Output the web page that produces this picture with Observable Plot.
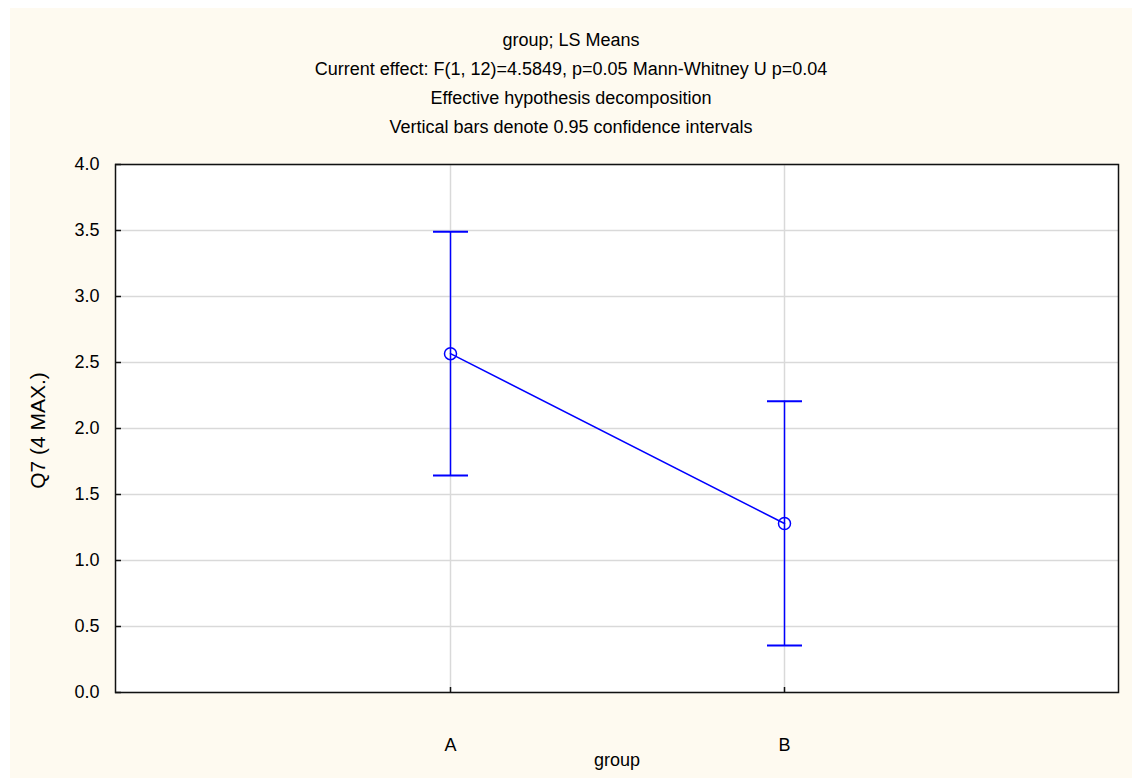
<!DOCTYPE html>
<html>
<head>
<meta charset="utf-8">
<script src="https://cdn.jsdelivr.net/npm/d3@7"></script>
<script src="https://cdn.jsdelivr.net/npm/@observablehq/plot@0.6"></script>
<style>
  html, body { margin: 0; padding: 0; background: #ffffff; }
  #fig { position: absolute; left: 10px; top: 8px; width: 1122px; height: 770px; background: #fefaf0;
         font-family: "Liberation Sans", Arial, sans-serif; color: #000; }
  #title { padding-top: 18px; text-align: center; font-size: 18px; line-height: 29px; height: 116px; }
  #chart svg { display: block; }
</style>
</head>
<body>
<div id="fig">
  <div id="title"></div>
  <div id="chart"></div>
</div>
<script>
const titleLines = [
  "group; LS Means",
  "Current effect: F(1, 12)=4.5849, p=0.05 Mann-Whitney U p=0.04",
  "Effective hypothesis decomposition",
  "Vertical bars denote 0.95 confidence intervals"
];
const groups = ["A", "B"];
const means = [2.567, 1.28];
const lower = [1.644, 0.356];
const upper = [3.49, 2.207];
const yTicks = [0, 0.5, 1.0, 1.5, 2.0, 2.5, 3.0, 3.5, 4.0];
const yLabel = "Q7 (4 MAX.)";
const xLabel = "group";

const titleDiv = document.getElementById("title");
titleLines.forEach(t => { const d = document.createElement("div"); d.textContent = t; titleDiv.appendChild(d); });

const data = groups.map((g, i) => ({group: g, mean: means[i], lo: lower[i], hi: upper[i]}));

const W = 1122, H = 636;
const mL = 105, mR = 14, mT = 22, mB = 86;
const pw = W - mL - mR, ph = H - mT - mB;
const blue = "#0000ff";
const capSymbol = { draw(ctx) { ctx.moveTo(-17.5, 0); ctx.lineTo(17.5, 0); } };

const chart = Plot.plot({
  width: W, height: H,
  marginLeft: mL, marginRight: mR, marginTop: mT, marginBottom: mB,
  style: { background: "transparent", fontFamily: "'Liberation Sans', Arial, sans-serif", fontSize: "18px", color: "#000" },
  x: { type: "point", domain: groups, padding: 1 },
  y: { domain: [0, 4] },
  marks: [
    Plot.frame({ fill: "white", stroke: "none" }),
    Plot.gridY(yTicks, { stroke: "#d9d9d9", strokeOpacity: 1, strokeWidth: 1.5 }),
    Plot.gridX(groups, { stroke: "#d9d9d9", strokeOpacity: 1, strokeWidth: 1.5 }),
    Plot.tickY(yTicks, { y: d => d, stroke: "#111", strokeWidth: 1.5, insetRight: pw - 6 }),
    Plot.tickX(groups, { x: d => d, stroke: "#111", strokeWidth: 1.5, insetTop: ph - 5 }),
    Plot.frame({ stroke: "#111", strokeWidth: 1.5 }),
    Plot.axisY(yTicks, { tickSize: 0, tickPadding: 16, tickFormat: d3.format(".1f"), label: null, fontSize: 18 }),
    Plot.axisX(groups, { tickSize: 0, tickPadding: 46, label: null, fontSize: 18 }),
    Plot.text([yLabel], { text: d => d, frameAnchor: "left", dx: -77, dy: 2, rotate: -90, lineAnchor: "middle", textAnchor: "middle", fontSize: 21, fill: "#000" }),
    Plot.text([xLabel], { text: d => d, frameAnchor: "bottom", dy: 68, lineAnchor: "middle", textAnchor: "middle", fontSize: 18, fill: "#000" }),
    Plot.ruleX(data, { x: "group", y1: "lo", y2: "hi", stroke: blue, strokeWidth: 1.5 }),
    Plot.dot(data, { x: "group", y: "lo", symbol: capSymbol, r: 5, stroke: blue, strokeWidth: 2, fill: "none" }),
    Plot.dot(data, { x: "group", y: "hi", symbol: capSymbol, r: 5, stroke: blue, strokeWidth: 2, fill: "none" }),
    Plot.line(data, { x: "group", y: "mean", stroke: blue, strokeWidth: 1.5 }),
    Plot.dot(data, { x: "group", y: "mean", r: 6, stroke: blue, strokeWidth: 1.5, fill: "none" })
  ]
});
document.getElementById("chart").appendChild(chart);
</script>
</body>
</html>
